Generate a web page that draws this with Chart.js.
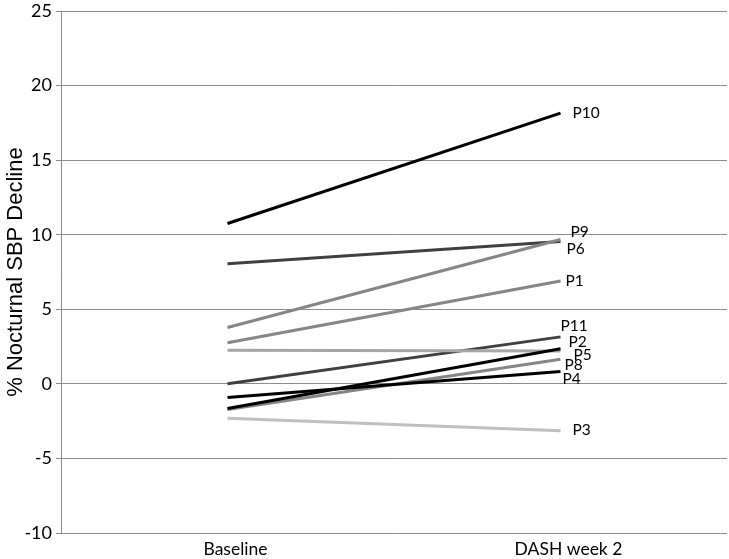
<!DOCTYPE html>
<html>
<head>
<meta charset="utf-8">
<script src="https://cdn.jsdelivr.net/npm/chart.js@4"></script>
<style>
  html, body { margin: 0; padding: 0; background: #fff; }
  #wrap { width: 729px; height: 559px; }
</style>
</head>
<body>
<div id="wrap"><canvas id="chart"></canvas></div>
<script>
// categories and per-patient values (% nocturnal SBP decline)
const timepoints = ['Baseline', 'DASH week 2'];
const patients = ['P1', 'P2', 'P3', 'P4', 'P5', 'P6', 'P8', 'P9', 'P10', 'P11'];
const baselineValues = [2.75, -1.65, -2.3, -0.92, 2.25, 3.78, -1.72, 8.05, 10.75, 0.0];
const week2Values = [6.9, 2.35, -3.15, 0.83, 2.2, 9.68, 1.65, 9.55, 18.15, 3.15];
const yTicks = [-10, -5, 0, 5, 10, 15, 20, 25];

// styling
const lineColors = {
    P1: '#868686', P2: '#000000', P3: '#c0c0c0', P4: '#000000', P5: '#a6a6a6',
    P6: '#868686', P8: '#868686', P9: '#404040', P10: '#000000', P11: '#404040',
};
const labelOffsets = {
    P1: [5, 0], P2: [8, -7], P3: [12, -1], P4: [2, 8], P5: [13, 4],
    P6: [6, 10], P8: [4, 6], P9: [10, -9], P10: [12, 0], P11: [0, -11],
};

const endLabels = {
    id: 'endLabels',
    afterDatasetsDraw(chart) {
        const ctx = chart.ctx;
        ctx.save();
        ctx.font = '15.5px Lato';
        ctx.fillStyle = '#000';
        ctx.textBaseline = 'middle';
        ctx.textAlign = 'left';
        chart.data.datasets.forEach((ds, i) => {
            const pt = chart.getDatasetMeta(i).data[1];
            const off = labelOffsets[ds.label];
            ctx.fillText(ds.label, pt.x + off[0], pt.y + off[1]);
        });
        ctx.restore();
    },
};

new Chart(document.getElementById('chart'), {
    type: 'line',
    data: {
        labels: timepoints,
        datasets: patients.map((p, i) => ({
            label: p,
            data: [baselineValues[i], week2Values[i]],
            borderColor: lineColors[p],
            borderWidth: 3,
            pointRadius: 0,
            tension: 0,
            fill: false,
        })),
    },
    options: {
        responsive: true,
        maintainAspectRatio: false,
        animation: false,
        layout: { padding: { top: 11, right: 2, left: 0, bottom: 0 } },
        plugins: {
            legend: { display: false },
            tooltip: { enabled: false },
        },
        scales: {
            x: {
                offset: true,
                grid: { display: false, drawTicks: false },
                border: { display: false },
                ticks: { color: '#000', font: { family: 'Lato', size: 17.5 }, padding: 6, labelOffset: 8 },
                afterFit: s => { s.height = 26; },
            },
            y: {
                min: -10,
                max: 25,
                afterBuildTicks: s => { s.ticks = yTicks.map(v => ({ value: v })); },
                grid: { color: '#8c8c8c', lineWidth: 1, tickLength: 5 },
                border: { color: '#8c8c8c' },
                ticks: { color: '#000', font: { family: 'Lato', size: 18 }, padding: 4 },
                title: {
                    display: true,
                    text: '% Nocturnal SBP Decline',
                    color: '#000',
                    font: { family: 'Liberation Sans', size: 22 },
                    padding: { top: 3, bottom: 0 },
                },
                afterFit: s => {
                    s.width = 61;
                    s.paddingTop = 0;
                    s.paddingBottom = 0;
                },
            },
        },
    },
    plugins: [endLabels],
});
</script>
</body>
</html>
